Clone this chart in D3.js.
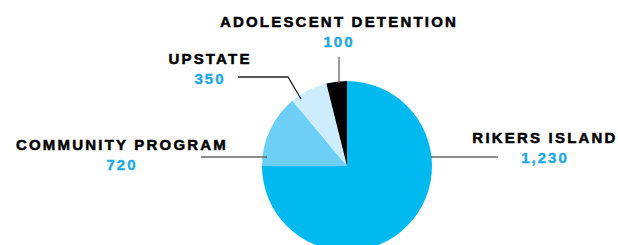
<!DOCTYPE html>
<html>
<head>
<meta charset="utf-8">
<script src="https://cdn.jsdelivr.net/npm/d3@7"></script>
<style>
  html, body { margin: 0; padding: 0; background: #fff; }
  .lbl { font-family: "Liberation Sans", Arial, sans-serif; font-weight: bold; font-size: 15px; letter-spacing: 2.2px; fill: #000; stroke: #000; stroke-width: 0.5px; }
  .num { font-family: "Liberation Sans", Arial, sans-serif; font-weight: bold; font-size: 15px; letter-spacing: 2px; fill: #1ea9e6; stroke: #1ea9e6; stroke-width: 0.4px; }
</style>
</head>
<body>
<div id="chart"></div>
<script>
// data
const categories = ["RIKERS ISLAND", "COMMUNITY PROGRAM", "UPSTATE", "ADOLESCENT DETENTION"];
const counts = [1230, 720, 350, 100];
// slice shares as drawn in the picture (percent of circle)
const shares = [75, 13.9, 7.2, 3.9];

const width = 618;
const height = 245;
const cx = 347, cy = 166, radius = 85;

const colors = ["#00b9ee", "#6dcff6", "#cdedfc", "#000000"];

// label anchor (centre of text) and leader line for each slice
const layout = [
  { x: 545, y: 143, line: [[cx + radius - 1, 157], [498, 157]] },
  { x: 122, y: 150, line: [[201, 157], [267, 157]] },
  { x: 210, y: 64,  line: [[238, 77], [288, 77], [301, 99]] },
  { x: 339, y: 27,  line: [[339, 57], [339, 83]] }
];

const data = categories.map((c, i) => ({ name: c, count: counts[i], share: shares[i] }));

const svg = d3.select("#chart").append("svg")
  .attr("width", width)
  .attr("height", height);

const pie = d3.pie()
  .sort(null)
  .value(d => d.share);

const arc = d3.arc()
  .innerRadius(0)
  .outerRadius(radius);

const g = svg.append("g")
  .attr("transform", `translate(${cx}, ${cy})`);

g.selectAll("path")
  .data(pie(data))
  .enter().append("path")
  .attr("d", arc)
  .attr("fill", (d, i) => colors[i]);

// leader lines
const line = d3.line();
svg.selectAll(".leader")
  .data(layout)
  .enter().append("path")
  .attr("class", "leader")
  .attr("d", d => line(d.line))
  .attr("fill", "none")
  .attr("stroke", (d, i) => i == 2 ? "#222" : "#666")
  .attr("stroke-width", 1.3);

// labels
const fmt = d3.format(",");
data.forEach((d, i) => {
  const p = layout[i];
  svg.append("text")
    .attr("class", "lbl")
    .attr("x", p.x)
    .attr("y", p.y)
    .attr("text-anchor", "middle")
    .text(d.name);
  svg.append("text")
    .attr("class", "num")
    .attr("x", p.x)
    .attr("y", p.y + 20)
    .attr("text-anchor", "middle")
    .text(fmt(d.count));
});
</script>
</body>
</html>
